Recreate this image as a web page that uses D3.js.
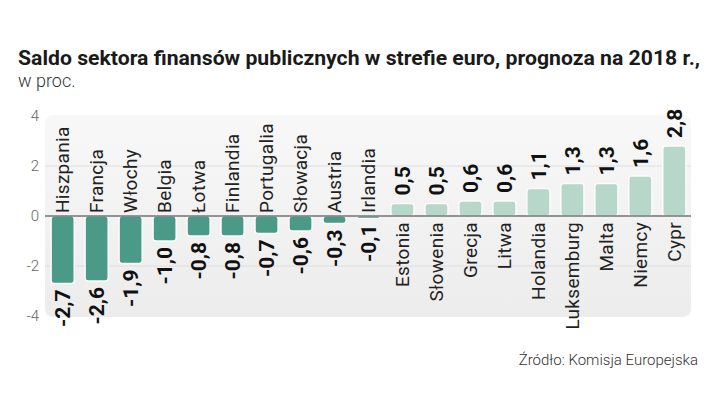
<!DOCTYPE html>
<html lang="pl">
<head>
	<meta charset="utf-8">
	<script src="https://d3js.org/d3.v7.min.js"></script>
	<style>
		body{ margin:0; background:#fff; }
		text{ font-family: Roboto, "Noto Sans", sans-serif; }
	</style>
</head>
<body>
	<script>
		var countries = ["Hiszpania", "Francja", "Włochy", "Belgia", "Łotwa", "Finlandia", "Portugalia",
			"Słowacja", "Austria", "Irlandia", "Estonia", "Słowenia", "Grecja", "Litwa",
			"Holandia", "Luksemburg", "Malta", "Niemcy", "Cypr"];
		var values = [-2.7, -2.6, -1.9, -1.0, -0.8, -0.8, -0.7, -0.6, -0.3, -0.1,
			0.5, 0.5, 0.6, 0.6, 1.1, 1.3, 1.3, 1.6, 2.8];
		var yTicks = [-4, -2, 0, 2, 4];

		var width = 720, height = 405;
		var svg = d3.select("body").append("svg")
			.attr("width", width)
			.attr("height", height);

		var defs = svg.append("defs");
		var grad = defs.append("linearGradient").attr("id", "bg")
			.attr("x1", 0).attr("y1", 0).attr("x2", 0).attr("y2", 1);
		grad.append("stop").attr("offset", "0%").attr("stop-color", "#f8f8f8");
		grad.append("stop").attr("offset", "100%").attr("stop-color", "#ececec");

		var x = d3.scaleBand()
			.domain(countries)
			.range([45, 692])
			.paddingInner(0.32)
			.paddingOuter(0.18);
		var y = d3.scaleLinear().domain([-4, 4]).range([316, 116]);

		// panel
		svg.append("rect")
			.attr("x", 45).attr("y", y(4) - 1)
			.attr("width", 646).attr("height", y(-4) - y(4) + 2)
			.attr("rx", 8)
			.attr("fill", "url(#bg)");

		// grid
		svg.selectAll("line.grid")
			.data([-2, 2]).enter()
			.append("line")
			.attr("class", "grid")
			.attr("x1", 45).attr("x2", 691)
			.attr("y1", y).attr("y2", y)
			.attr("stroke", "#dedede");

		// y labels
		svg.selectAll("text.tick")
			.data(yTicks).enter()
			.append("text")
			.attr("class", "tick")
			.attr("x", 39)
			.attr("y", y)
			.attr("dy", "0.35em")
			.attr("text-anchor", "end")
			.attr("font-size", 15)
			.attr("font-weight", 300)
			.attr("fill", "#666")
			.text(function(d){ return d; });

		var data = countries.map(function(c, i){ return {name: c, v: values[i]}; });

		svg.selectAll("rect.bar")
			.data(data).enter()
			.append("rect")
			.attr("class", "bar")
			.attr("x", function(d){ return x(d.name); })
			.attr("width", x.bandwidth())
			.attr("y", function(d){ return Math.min(y(d.v), y(0)); })
			.attr("height", function(d){ return Math.abs(y(d.v) - y(0)); })
			.attr("rx", 3)
			.attr("fill", function(d){ return d.v < 0 ? "#4a9a87" : "#b6d7ca"; })
			.attr("stroke", "#fbfbfb")
			.attr("stroke-width", 1.5);

		// zero line
		svg.append("line")
			.attr("x1", 45).attr("x2", 691)
			.attr("y1", y(0)).attr("y2", y(0))
			.attr("stroke", "#333");

		var fmt = function(v){ return d3.format(".1f")(v).replace(".", ",").replace("−", "-"); };

		// country names
		svg.selectAll("text.name")
			.data(data).enter()
			.append("text")
			.attr("class", "name")
			.attr("transform", function(d){
				var cx = x(d.name) + x.bandwidth() / 2;
				var ty = d.v < 0 ? y(0) - 3 : y(0) + 6;
				return "translate(" + cx + "," + ty + ") rotate(-90)";
			})
			.attr("dy", "0.35em")
			.attr("text-anchor", function(d){ return d.v < 0 ? "start" : "end"; })
			.attr("font-size", 19)
			.attr("letter-spacing", 0.3)
			.attr("fill", "#222")
			.text(function(d){ return d.name; });

		// values
		svg.selectAll("text.val")
			.data(data).enter()
			.append("text")
			.attr("class", "val")
			.attr("transform", function(d){
				var cx = x(d.name) + x.bandwidth() / 2;
				var ty = d.v < 0 ? y(d.v) + 6 : y(d.v) - 8;
				return "translate(" + cx + "," + ty + ") rotate(-90)";
			})
			.attr("dy", "0.36em")
			.attr("text-anchor", function(d){ return d.v < 0 ? "end" : "start"; })
			.attr("font-size", 21)
			.attr("font-weight", "bold")
			.attr("fill", "#111")
			.text(function(d){ return fmt(d.v); });

		// title
		svg.append("text")
			.attr("x", 18).attr("y", 65)
			.attr("font-size", 20)
			.attr("font-weight", "bold")
			.attr("fill", "#1a1a1a")
			.attr("textLength", 682)
			.attr("lengthAdjust", "spacingAndGlyphs")
			.text("Saldo sektora finansów publicznych w strefie euro, prognoza na 2018 r.,");
		svg.append("text")
			.attr("x", 18).attr("y", 87)
			.attr("font-size", 18)
			.attr("font-weight", 300)
			.attr("fill", "#333")
			.text("w proc.");

		svg.append("text")
			.attr("x", 698).attr("y", 365)
			.attr("text-anchor", "end")
			.attr("font-size", 15)
			.attr("font-weight", 300)
			.attr("fill", "#333")
			.text("Źródło: Komisja Europejska");
	</script>
</body>
</html>
